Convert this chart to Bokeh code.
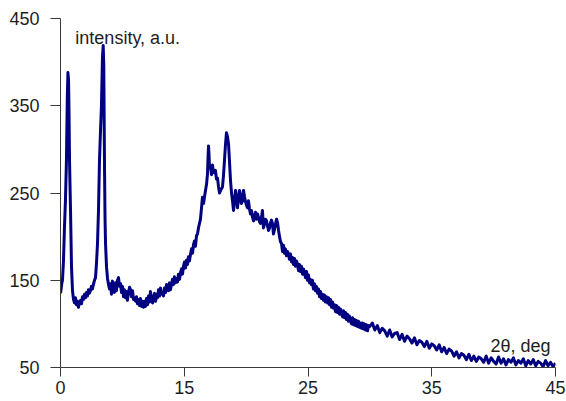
from bokeh.plotting import figure
from bokeh.models import Range1d, FixedTicker, Label
from bokeh.embed import file_html
from bokeh.resources import INLINE

# 2theta positions (axis frame: first tick labelled "0")
two_theta = [
    5.00, 5.05, 5.10, 5.16, 5.24, 5.32, 5.40, 5.48, 5.55, 5.60, 5.65, 5.69, 5.73, 5.81, 5.89, 5.97,
    6.05, 6.13, 6.21, 6.29, 6.37, 6.45, 6.53, 6.62, 6.70, 6.78, 6.86, 6.94, 7.02, 7.10, 7.18, 7.26,
    7.34, 7.42, 7.50, 7.58, 7.67, 7.75, 7.83, 7.91, 7.99, 8.07, 8.15, 8.23, 8.31, 8.39, 8.45, 8.50,
    8.53, 8.56, 8.60, 8.64, 8.72, 8.80, 8.88, 8.96, 9.04, 9.12, 9.20, 9.28, 9.36, 9.44, 9.52, 9.60,
    9.69, 9.77, 9.85, 9.93, 10.01, 10.09, 10.17, 10.25, 10.33, 10.41, 10.49, 10.58, 10.66, 10.74,
    10.82, 10.90, 10.98, 11.06, 11.14, 11.22, 11.30, 11.38, 11.46, 11.54, 11.63, 11.71, 11.79, 11.87,
    11.95, 12.03, 12.11, 12.19, 12.27, 12.35, 12.44, 12.52, 12.60, 12.68, 12.76, 12.84, 12.92, 13.00,
    13.08, 13.16, 13.24, 13.32, 13.40, 13.49, 13.57, 13.65, 13.73, 13.81, 13.89, 13.97, 14.05, 14.13,
    14.21, 14.29, 14.37, 14.45, 14.53, 14.62, 14.70, 14.78, 14.86, 14.94, 15.02, 15.10, 15.18, 15.26,
    15.34, 15.42, 15.51, 15.59, 15.67, 15.75, 15.83, 15.91, 15.99, 16.07, 16.15, 16.23, 16.31, 16.39,
    16.47, 16.56, 16.64, 16.72, 16.80, 16.88, 16.92, 16.96, 17.00, 17.04, 17.12, 17.20, 17.28, 17.36,
    17.44, 17.52, 17.60, 17.69, 17.77, 17.85, 17.93, 18.01, 18.09, 18.17, 18.25, 18.33, 18.41, 18.49,
    18.58, 18.66, 18.74, 18.82, 18.90, 18.98, 19.06, 19.14, 19.22, 19.30, 19.38, 19.46, 19.54, 19.62,
    19.71, 19.79, 19.87, 19.95, 20.03, 20.11, 20.19, 20.27, 20.35, 20.43, 20.52, 20.60, 20.68, 20.76,
    20.84, 20.92, 21.00, 21.08, 21.16, 21.24, 21.32, 21.40, 21.48, 21.56, 21.65, 21.73, 21.81, 21.89,
    21.97, 22.05, 22.13, 22.21, 22.29, 22.37, 22.46, 22.54, 22.62,
    22.70, 22.78, 22.86, 22.94, 23.02, 23.10, 23.18, 23.26, 23.34, 23.42,
    23.50, 23.59, 23.67, 23.75, 23.83, 23.91, 23.99, 24.07, 24.15, 24.23,
    24.31, 24.39, 24.47, 24.55, 24.64, 24.72, 24.80, 24.88, 24.96, 25.04,
    25.12, 25.20, 25.28, 25.36, 25.44, 25.52, 25.60, 25.68, 25.77, 25.85,
    25.93, 26.01, 26.09, 26.17, 26.25, 26.33, 26.41, 26.50, 26.58, 26.66,
    26.74, 26.82, 26.90, 26.98, 27.06, 27.14, 27.22, 27.30, 27.38, 27.46,
    27.55, 27.63, 27.71, 27.79, 27.87, 27.95, 28.03, 28.11, 28.19, 28.27,
    28.35, 28.43, 28.51, 28.60, 28.68, 28.76, 28.84, 28.92, 29.00, 29.08,
    29.16, 29.24, 29.32, 29.40, 29.48, 29.57, 29.65, 29.73, 29.81, 29.89,
    30.0, 30.2, 30.4, 30.6, 30.8, 31.0, 31.2, 31.4, 31.6, 31.8,
    32.0, 32.2, 32.4, 32.6, 32.8, 33.0, 33.2, 33.4, 33.6, 33.8,
    34.0, 34.2, 34.4, 34.6, 34.8, 35.0, 35.2, 35.4, 35.6, 35.8,
    36.0, 36.2, 36.4, 36.6, 36.8, 37.0, 37.2, 37.4, 37.6, 37.8,
    38.0, 38.2, 38.4, 38.6, 38.8, 39.0, 39.2, 39.4, 39.6, 39.8,
    40.0, 40.2, 40.4, 40.6, 40.8, 41.0, 41.2, 41.4, 41.6, 41.8,
    42.0, 42.2, 42.4, 42.6, 42.8, 43.0, 43.2, 43.4, 43.6, 43.8,
    44.0, 44.2, 44.4, 44.6, 44.8, 45.0,
]

intensity = [
    135, 140, 146, 150, 172, 210, 241, 287, 360, 388, 380, 340, 287, 230, 165, 138,
    128, 124, 130, 122, 126, 119, 124, 127, 123, 131, 128, 134, 130, 136, 132, 139,
    135, 138, 143, 140, 146, 150, 153, 170, 192, 230, 287, 320, 350, 405, 419, 395,
    330, 275, 220, 192, 165, 152, 145, 140, 146, 134, 149, 139, 136, 147, 138, 150,
    153, 143, 146, 136, 143, 131, 139, 130, 137, 127, 136, 142, 139, 131,
    138, 128, 130, 126, 131, 123, 128, 121, 129, 120, 126, 119, 126, 120,
    129, 122, 132, 125, 137, 129, 124, 131, 135, 126, 134, 130, 139, 132,
    141, 134, 136, 132, 141, 136, 145, 141, 138, 147, 139, 146, 151, 145,
    154, 147, 152, 148, 157, 151, 159, 163, 157, 166, 171, 164, 173, 168,
    177, 172, 180, 186, 181, 191, 195, 189, 201, 203, 210, 215, 220, 232,
    245, 238, 246, 253, 260, 272, 290, 304, 295, 279, 281, 271, 282, 274,
    273, 276, 266, 267, 257, 250, 253, 255, 257, 270, 287, 305, 319, 315,
    306, 285, 264, 250, 241, 230, 240, 253, 245, 233, 242, 253, 248, 238,
    241, 253, 246, 240, 236, 233, 241, 232, 226, 230, 222, 218, 224, 228,
    220, 226, 222, 217, 215, 222, 230, 210, 214, 220, 218, 212, 207, 210,
    216, 219, 215, 203, 208, 214, 220, 216, 207,
    200, 194, 192, 183, 190, 181, 186, 178, 183, 181,
    174, 180, 171, 176, 168, 175, 166, 172, 169, 161,
    168, 160, 166, 157, 163, 158, 153, 160, 150, 156,
    147, 151, 145, 150, 140, 146, 138, 143, 135, 140,
    131, 137, 129, 134, 127, 133, 125, 131, 124, 130,
    122, 128, 119, 125, 118, 122, 114, 121, 113, 119,
    111, 117, 112, 108, 115, 107, 113, 105, 111, 103,
    109, 104, 100, 107, 99, 105, 98, 104, 97, 103,
    96, 101, 95, 101, 94, 100, 93, 99, 92, 98,
    97, 101, 93, 98, 90, 95, 92, 86, 93, 85,
    89, 90, 82, 88, 80, 86, 83, 78, 84, 76,
    81, 79, 74, 80, 72, 77, 75, 70, 76, 68,
    73, 66, 71, 69, 63, 68, 61, 66, 64, 59,
    65, 58, 63, 57, 62, 60, 56, 63, 55, 61,
    57, 54, 62, 55, 60, 53, 59, 56, 61, 53,
    58, 55, 60, 52, 58, 54, 59, 52, 57, 55,
    51, 58, 52, 56, 51, 55,
]
assert len(two_theta) == len(intensity)

x_ticks = [5, 15, 25, 35, 45]
x_tick_labels = ["0", "15", "25", "35", "45"]
y_ticks = [50, 150, 250, 350, 450]

FONT = "Liberation Sans"
LINE = "#3a3a3a"
TEXT = "#1e1e1e"

p = figure(width=566, height=401, output_backend="svg", toolbar_location=None,
           x_range=Range1d(5, 45), y_range=Range1d(50, 450),
           min_border_left=60, min_border_right=11, min_border_top=18, min_border_bottom=34)
p.outline_line_color = None
p.xgrid.visible = False
p.ygrid.visible = False
p.background_fill_color = "white"

p.line(two_theta, intensity, line_color="#000080", line_width=3, line_join="round")

p.xaxis.ticker = FixedTicker(ticks=x_ticks)
p.xaxis.major_label_overrides = {t: l for t, l in zip(x_ticks, x_tick_labels)}
p.yaxis.ticker = FixedTicker(ticks=y_ticks)
for ax in (p.xaxis[0], p.yaxis[0]):
    ax.axis_line_color = LINE
    ax.major_tick_line_color = LINE
    ax.minor_tick_line_color = None
    ax.major_tick_in = 0
    ax.major_tick_out = 10
    ax.major_label_text_font = FONT
    ax.major_label_text_font_size = "18px"
    ax.major_label_text_color = TEXT
p.xaxis.major_tick_out = 9
p.xaxis.major_label_standoff = 4
p.yaxis.major_label_standoff = 11

p.add_layout(Label(x=6.2, y=428, text="intensity, a.u.", text_font=FONT,
                   text_font_size="18px", text_color=TEXT, text_baseline="alphabetic"))
p.add_layout(Label(x=39.75, y=75, text="2θ, deg", text_font=FONT,
                   text_font_size="18px", text_color=TEXT, text_baseline="alphabetic"))

open("out.html", "w").write(file_html(p, INLINE))
